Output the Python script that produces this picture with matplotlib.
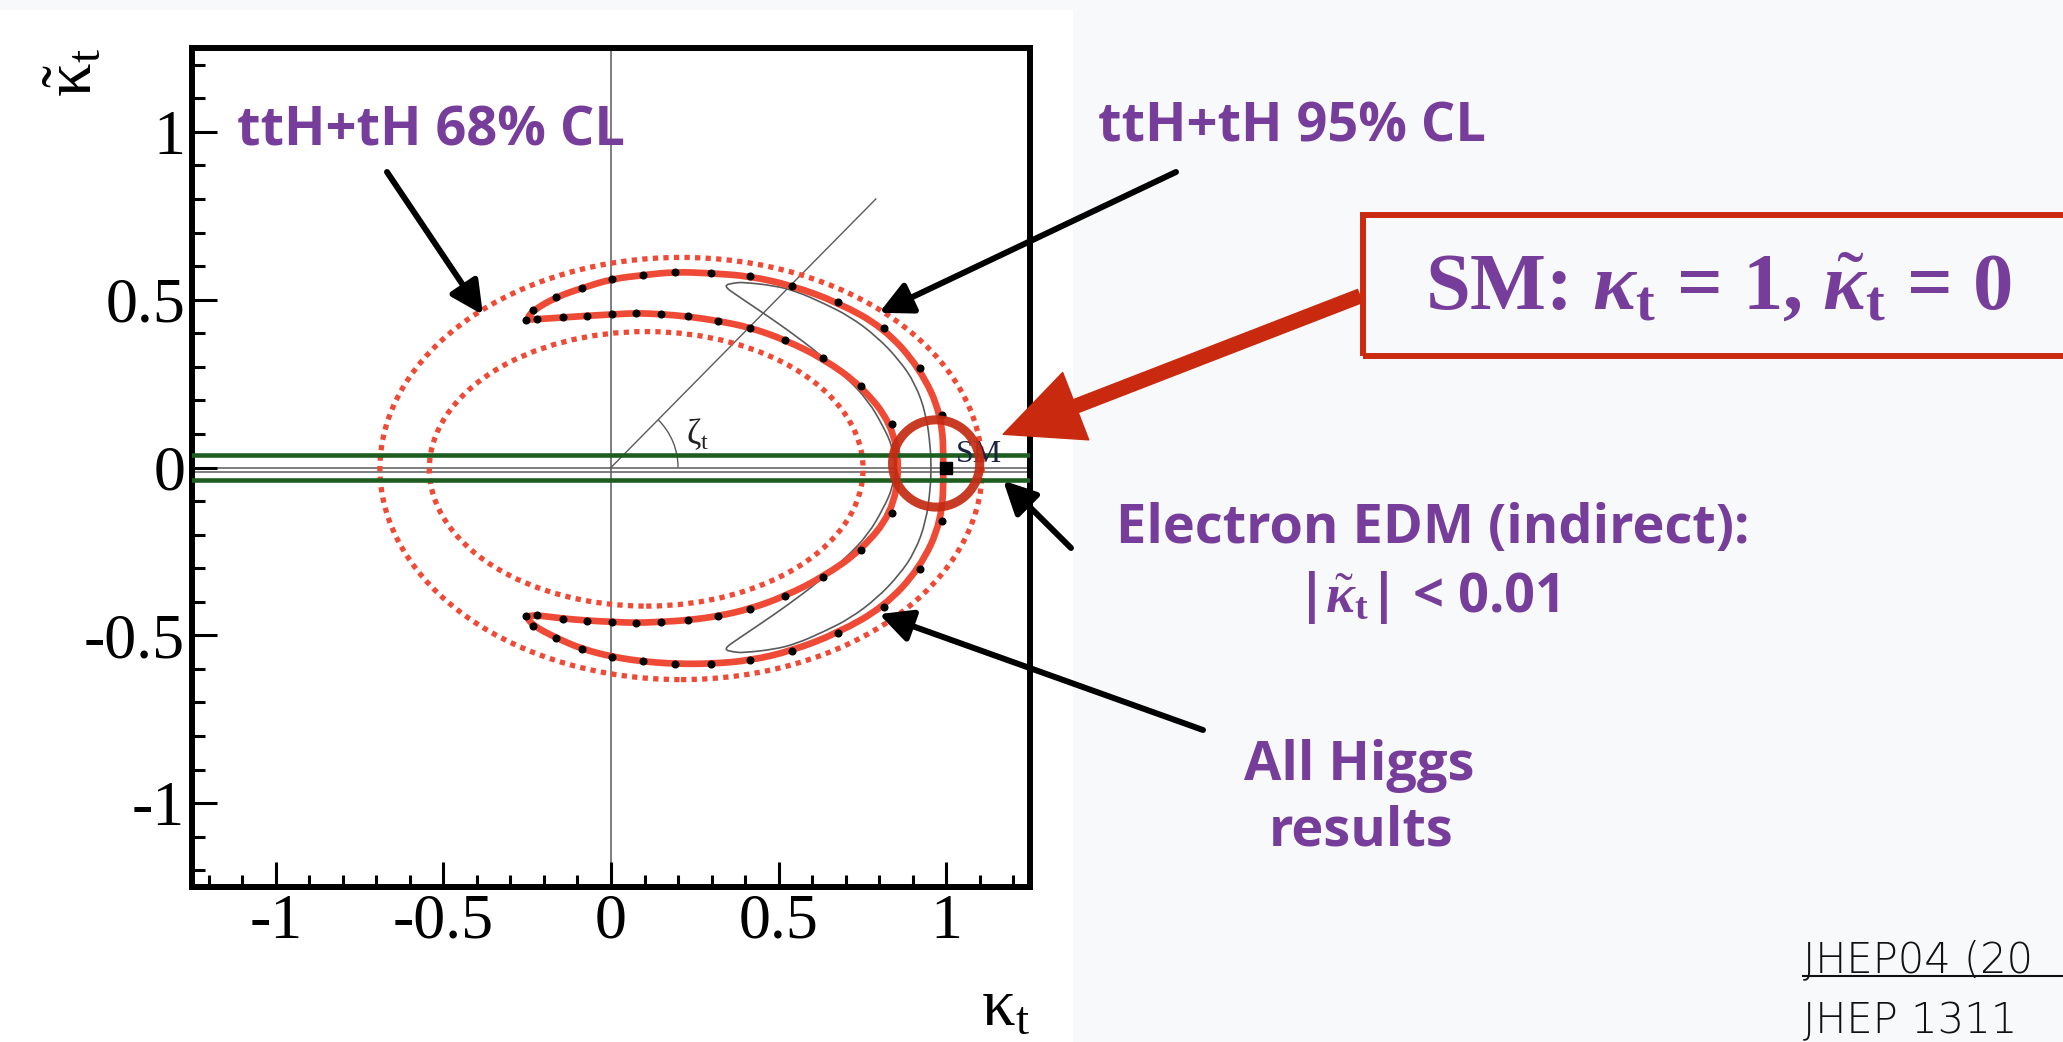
import numpy as np
import matplotlib
matplotlib.use("Agg")
import matplotlib.pyplot as plt
from matplotlib.patches import Ellipse, Circle, Arc, Rectangle, PathPatch
from matplotlib.path import Path
from matplotlib.lines import Line2D

plt.rcParams['mathtext.fontset'] = 'custom'
plt.rcParams['mathtext.rm'] = 'Liberation Serif'
plt.rcParams['mathtext.it'] = 'Liberation Serif:italic:bold'
plt.rcParams['mathtext.bf'] = 'Liberation Serif:bold'

# ---------------- data ----------------
xticks = [-1, -0.5, 0, 0.5, 1]
xticklabels = ['-1', '-0.5', '0', '0.5', '1']
yticks = [-1, -0.5, 0, 0.5, 1]
yticklabels = ['-1', '-0.5', '0', '0.5', '1']
minor_ticks = [-1.2, -1.1, -0.9, -0.8, -0.7, -0.6, -0.4, -0.3, -0.2, -0.1,
               0.1, 0.2, 0.3, 0.4, 0.6, 0.7, 0.8, 0.9, 1.1, 1.2]

# ttH+tH contours (red dotted ellipses): centre, full width, full height
ell_cx = [0.209, 0.105]
ell_cy = [-0.003, -0.004]
ell_w = [1.797, 1.294]
ell_h = [1.258, 0.818]

# red crescent (solid) with black dots
cres_k = [-0.253, -0.233, -0.163, -0.086, 0.003, 0.094, 0.190, 0.298, 0.416, 0.540,
          0.677, 0.813, 0.921, 0.987, 0.993, 0.987, 0.921, 0.813, 0.677, 0.540,
          0.416, 0.298, 0.190, 0.094, 0.003, -0.086, -0.163, -0.233, -0.253,
          -0.222, -0.144, -0.073, 0.003, 0.074, 0.150, 0.230, 0.320, 0.416, 0.520,
          0.633, 0.747, 0.837, 0.862, 0.837, 0.747, 0.633, 0.520, 0.416, 0.320,
          0.230, 0.150, 0.074, 0.003, -0.073, -0.144, -0.222]
cres_kt = [0.440, 0.468, 0.508, 0.535, 0.562, 0.573, 0.583, 0.579, 0.570, 0.542,
           0.492, 0.417, 0.297, 0.156, 0.000, -0.159, -0.301, -0.416, -0.493, -0.546,
           -0.575, -0.585, -0.585, -0.578, -0.564, -0.541, -0.508, -0.471, -0.443,
           -0.440, -0.450, -0.456, -0.460, -0.463, -0.460, -0.455, -0.443, -0.421, -0.383,
           -0.326, -0.246, -0.137, 0.000, 0.131, 0.243, 0.325, 0.380, 0.417, 0.437,
           0.450, 0.457, 0.460, 0.456, 0.452, 0.447, 0.442]
cres_dot = [1, 1, 1, 1, 1, 1, 1, 1, 1, 1, 1, 1, 1, 1, 0, 1, 1, 1, 1, 1,
            1, 1, 1, 1, 1, 1, 1, 1, 1, 1, 1, 1, 1, 1, 1, 1, 1, 1, 1, 1,
            1, 1, 0, 1, 1, 1, 1, 1, 1, 1, 1, 1, 1, 1, 1, 1]

# "All Higgs results" crescent (thin grey)
higgs_k = [0.334, 0.367, 0.394, 0.487, 0.553, 0.633, 0.713, 0.793, 0.860, 0.907,
           0.940, 0.953, 0.955, 0.953, 0.940, 0.907, 0.860, 0.793, 0.713, 0.633,
           0.553, 0.487, 0.394, 0.367, 0.334, 0.380, 0.447, 0.527, 0.620, 0.700,
           0.767, 0.813, 0.840, 0.849, 0.840, 0.813, 0.767, 0.700, 0.620, 0.527,
           0.447, 0.380]
higgs_kt = [0.542, 0.550, 0.552, 0.542, 0.525, 0.490, 0.450, 0.390, 0.320, 0.251,
            0.160, 0.061, 0.000, -0.061, -0.160, -0.251, -0.320, -0.390, -0.450, -0.490,
            -0.525, -0.542, -0.552, -0.550, -0.542, -0.510, -0.465, -0.410, -0.340, -0.270,
            -0.200, -0.121, -0.061, 0.000, 0.061, 0.121, 0.200, 0.270, 0.340, 0.410,
            0.465, 0.510]

edm_band = [-0.036, 0.036]        # green lines
thin_lines = [0.0, -0.012]        # thin grey horizontal lines
zeta_ray = [0.79, 0.80]           # end of the zeta_t ray
zeta_arc_r = 0.20
sm_point = [1.0, 0.0]
sm_circle = [0.970, 0.012, 0.13]  # hand-drawn circle centre & radius

# ---------------- figure ----------------
W, H = 2063, 1042
fig = plt.figure(figsize=(W / 100, H / 100), dpi=100, facecolor='#f8f9fa')


def fx(px):
    return px / W


def fy(py):
    return 1 - py / H


fig.add_artist(Rectangle((0, 0), fx(1073), fy(10), transform=fig.transFigure,
                         facecolor='white', edgecolor='none', zorder=0))

ax = fig.add_axes([fx(192), fy(887), fx(1030) - fx(192), fy(48) - fy(887)])
ax.set_xlim(-1.25, 1.25)
ax.set_ylim(-1.25, 1.25)
ax.set_facecolor('white')

ax.set_xticks(xticks)
ax.set_xticklabels(xticklabels, fontfamily='Liberation Serif', fontsize=46)
ax.set_yticks(yticks)
ax.set_yticklabels(yticklabels, fontfamily='Liberation Serif', fontsize=46)
ax.set_xticks(minor_ticks, minor=True)
ax.set_yticks(minor_ticks, minor=True)
ax.tick_params(which='both', direction='in', top=False, right=False,
               width=2.2, color='black')
ax.tick_params(which='major', length=18)
ax.tick_params(which='minor', length=9)
ax.tick_params(axis='x', pad=5)
ax.tick_params(axis='y', pad=5)
for s in ax.spines.values():
    s.set_linewidth(4.3)

red = '#ef4a36'
grey = '#5a5a5a'

# axes helper lines
ax.axvline(0, color=grey, lw=1.1, zorder=1)
for y in thin_lines:
    ax.axhline(y, color=grey, lw=1.1, zorder=1)
ax.plot([0, zeta_ray[0]], [0, zeta_ray[1]], color=grey, lw=1.0, zorder=1)
ax.add_patch(Arc((0, 0), 2 * zeta_arc_r, 2 * zeta_arc_r, theta1=0, theta2=45,
                 color=grey, lw=1.0, zorder=1))
ax.text(0.225, 0.10, r'$\mathrm{\zeta}_\mathrm{t}$', fontsize=25, ha='left',
        va='center', color='#222222')

# dotted ellipses
for cx, cy, w, h in zip(ell_cx, ell_cy, ell_w, ell_h):
    ax.add_patch(Ellipse((cx, cy), w, h, fill=False, edgecolor=red, lw=3.8,
                         linestyle=(0, (1.0, 1.0)), zorder=2))


def smooth_closed(xs, ys):
    pts = np.column_stack([xs, ys])
    mids = (pts + np.roll(pts, -1, axis=0)) / 2
    verts = [mids[-1]]
    codes = [Path.MOVETO]
    for i in range(len(pts)):
        verts += [pts[i], mids[i]]
        codes += [Path.CURVE3, Path.CURVE3]
    return Path(verts, codes)


ax.add_patch(PathPatch(smooth_closed(higgs_k, higgs_kt), fill=False,
                       edgecolor=grey, lw=1.2, zorder=3))
ax.add_patch(PathPatch(smooth_closed(cres_k, cres_kt), fill=False,
                       edgecolor=red, lw=4.8, zorder=4))
dk = [k for k, d in zip(cres_k, cres_dot) if d]
dkt = [k for k, d in zip(cres_kt, cres_dot) if d]
ax.plot(dk, dkt, 'o', color='black', ms=4.8, zorder=5)

# EDM band
for y in edm_band:
    ax.axhline(y, color='#1d5e20', lw=3.3, zorder=6)

# SM point
ax.plot([sm_point[0]], [sm_point[1]], 's', color='black', ms=8.5, zorder=7)
ax.text(sm_point[0] + 0.03, sm_point[1] + 0.015, 'SM', fontfamily='Liberation Serif',
        fontsize=23, color='#1c2340', ha='left', va='baseline', zorder=7)
ax.add_patch(Circle((sm_circle[0], sm_circle[1]), sm_circle[2], fill=False,
                    edgecolor='#c42a12', lw=6.5, alpha=0.92, zorder=8))

# axis titles
fig.text(fx(1030), fy(1025), r'$\mathrm{\kappa}_\mathrm{t}$', ha='right',
         va='baseline', fontsize=48)
fig.text(fx(72), fy(48), r'$\tilde{\mathrm{\kappa}}_\mathrm{t}$', rotation=90,
         ha='center', va='top', fontsize=48)

# annotations
purple = '#773d9b'
lab = dict(fontfamily='Open Sans', fontweight='bold', color=purple, fontsize=39)
fig.text(fx(237), fy(145), 'ttH+tH 68% CL', ha='left', va='baseline', **lab)
fig.text(fx(1098), fy(142), 'ttH+tH 95% CL', ha='left', va='baseline', **lab)
fig.text(fx(1116), fy(543), 'Electron EDM (indirect):', ha='left', va='baseline', **lab)
fig.text(fx(1296), fy(612), r'|$\tilde{\kappa}_\mathbf{t}$| < 0.01', ha='left',
         va='baseline', **lab)
fig.text(fx(1359), fy(780), 'All Higgs', ha='center', va='baseline', **lab)
fig.text(fx(1361), fy(845), 'results', ha='center', va='baseline', **lab)

arrow_kw = dict(arrowstyle='-|>,head_length=0.9,head_width=0.45', mutation_scale=22,
                lw=4.3, color='black', shrinkA=0, shrinkB=0)
arrows = [((-0.382, 0.455), (387, 172)),
          ((0.80, 0.461), (1176, 172)),
          ((1.170, -0.039), (1071, 548)),
          ((0.80, -0.437), (1203, 730))]
for tip, tail in arrows:
    ax.annotate('', xy=tip, xycoords='data', xytext=(fx(tail[0]), fy(tail[1])),
                textcoords='figure fraction', arrowprops=arrow_kw,
                annotation_clip=False)

# SM box and red sketch arrow
fig.add_artist(Rectangle((fx(1363), fy(356)), fx(2100) - fx(1363), fy(215) - fy(356),
                         transform=fig.transFigure, fill=False, edgecolor='#cc2a10',
                         lw=4.3, zorder=5))
fig.text(fx(1718), fy(309), r'SM: $\kappa_\mathbf{t}$ = 1, $\tilde{\kappa}_\mathbf{t}$ = 0',
         fontfamily='Liberation Serif', fontweight='bold', fontsize=58, color=purple,
         ha='center', va='baseline')
ax.annotate('', xy=(1.170, 0.099), xycoords='data', xytext=(fx(1360), fy(296)),
            textcoords='figure fraction',
            arrowprops=dict(arrowstyle='simple,head_length=2.8,head_width=2.6,tail_width=0.5',
                            mutation_scale=20, fc='#c9290e', ec='#c9290e', lw=1,
                            shrinkA=0, shrinkB=0),
            annotation_clip=False)

# references
ref = dict(fontfamily='DejaVu Sans', fontweight='light', fontsize=30, color='#111111')
fig.text(fx(1803), fy(972), 'JHEP04 (20', ha='left', va='baseline', **ref)
fig.add_artist(Line2D([fx(1803), fx(2063)], [fy(976), fy(976)], transform=fig.transFigure,
                      color='#111111', lw=1.5))
fig.text(fx(1803), fy(1041), 'JHEP 1311', ha='left', va='bottom', **ref)

fig.savefig('out.png', dpi=100, facecolor=fig.get_facecolor())
